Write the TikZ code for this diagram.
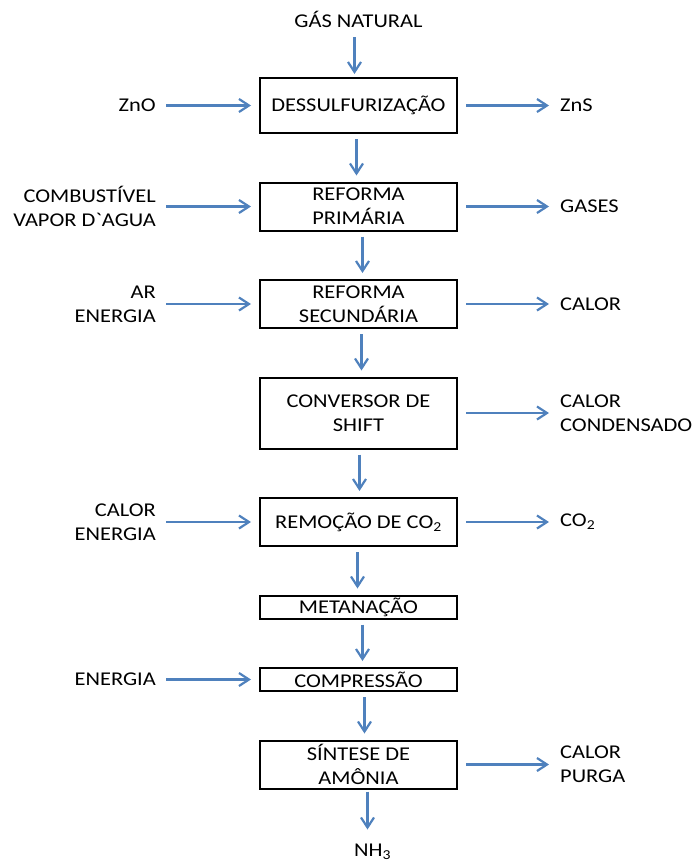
\documentclass[tikz,border=0pt]{standalone}
\usepackage{fontspec}
\setmainfont{Carlito}[Ligatures=TeXOff, FakeStretch=1.15]
\usetikzlibrary{positioning,arrows.meta}
\definecolor{flowBlue}{HTML}{4F81BD}
\tikzset{
  node distance=47.5pt and 103pt,
  proc/.style={draw=black, line width=2pt, minimum width=197pt, inner sep=2pt,
               align=center, font=\fontsize{19.5}{24}\selectfont},
  inlbl/.style={align=right, inner sep=0pt, font=\fontsize{19.5}{24}\selectfont},
  outlbl/.style={align=left, inner sep=0pt, font=\fontsize{19.5}{24}\selectfont},
  endlbl/.style={inner sep=0pt, font=\fontsize{19.5}{24}\selectfont},
  flow/.style={-{Straight Barb[length=10pt, width=13pt]}, line width=2.2pt, flowBlue,
               shorten <=5pt, shorten >=6pt},
  flowin/.style={flow, shorten <=10pt, shorten >=8pt},
  flowout/.style={flow, shorten <=8pt, shorten >=11pt},
}

\begin{document}
\begin{tikzpicture}
    \useasboundingbox (0,0) rectangle (694pt,-862pt);

    % process chain
    \node[proc, minimum height=55pt] (b1) at (358.5pt,-105.5pt) {DESSULFURIZAÇÃO};
    \node[proc, minimum height=48pt, below=of b1] (b2) {REFORMA\\PRIMÁRIA};
    \node[proc, minimum height=48pt, below=of b2] (b3) {REFORMA\\SECUNDÁRIA};
    \node[proc, minimum height=71pt, below=of b3] (b4) {CONVERSOR DE\\SHIFT};
    \node[proc, minimum height=48pt, below=of b4] (b5) {REMOÇÃO DE CO\textsubscript{2}};
    \node[proc, minimum height=23pt, below=of b5] (b6) {METANAÇÃO};
    \node[proc, minimum height=23pt, below=of b6] (b7) {COMPRESSÃO};
    \node[proc, minimum height=48pt, below=of b7] (b8) {SÍNTESE DE\\AMÔNIA};

    \node[endlbl, above=49pt of b1] (gas) {GÁS NATURAL};
    \node[endlbl, below=54pt of b8, xshift=14pt] (nh3) {NH\textsubscript{3}};

    % inputs
    \node[inlbl, left=of b1] (zno) {ZnO};
    \node[inlbl, left=of b2] (comb) {COMBUSTÍVEL\\VAPOR D`AGUA};
    \node[inlbl, left=of b3] (ar) {AR\\ENERGIA};
    \node[inlbl, left=of b5] (calin) {CALOR\\ENERGIA};
    \node[inlbl, left=of b7] (energ) {ENERGIA};

    % outputs
    \node[outlbl, right=102pt of b1] (zns) {ZnS};
    \node[outlbl, right=102pt of b2] (gases) {GASES};
    \node[outlbl, right=102pt of b3] (calor) {CALOR};
    \node[outlbl, right=102pt of b4] (cond) {CALOR\\CONDENSADO};
    \node[outlbl, right=102pt of b5] (co2) {CO\textsubscript{2}};
    \node[outlbl, right=102pt of b8] (purga) {CALOR\\PURGA};

    \draw[flow, shorten <=9pt, shorten >=3pt] ([xshift=-4pt]gas.south) -- ([xshift=-4pt]gas.south |- b1.north);
    \foreach \a/\b/\dx in {b1/b2/-2, b2/b3/4, b3/b4/3, b4/b5/1,
                           b5/b6/-1, b6/b7/4, b7/b8/6} {
      \draw[flow] ([xshift=\dx pt]\a.south) -- ([xshift=\dx pt]\a.south |- \b.north);
    }
    \draw[flow, shorten <=2pt, shorten >=14pt] ([xshift=9pt]b8.south) -- ([xshift=9pt]b8.south |- nh3.north);

    \foreach \l/\b in {zno/b1, comb/b2, ar/b3, calin/b5, energ/b7} {
      \draw[flowin] (\l) -- (\b);
    }
    \foreach \b/\l in {b1/zns, b2/gases, b3/calor, b4/cond, b5/co2, b8/purga} {
      \draw[flowout] (\b) -- (\l);
    }
\end{tikzpicture}
\end{document}
